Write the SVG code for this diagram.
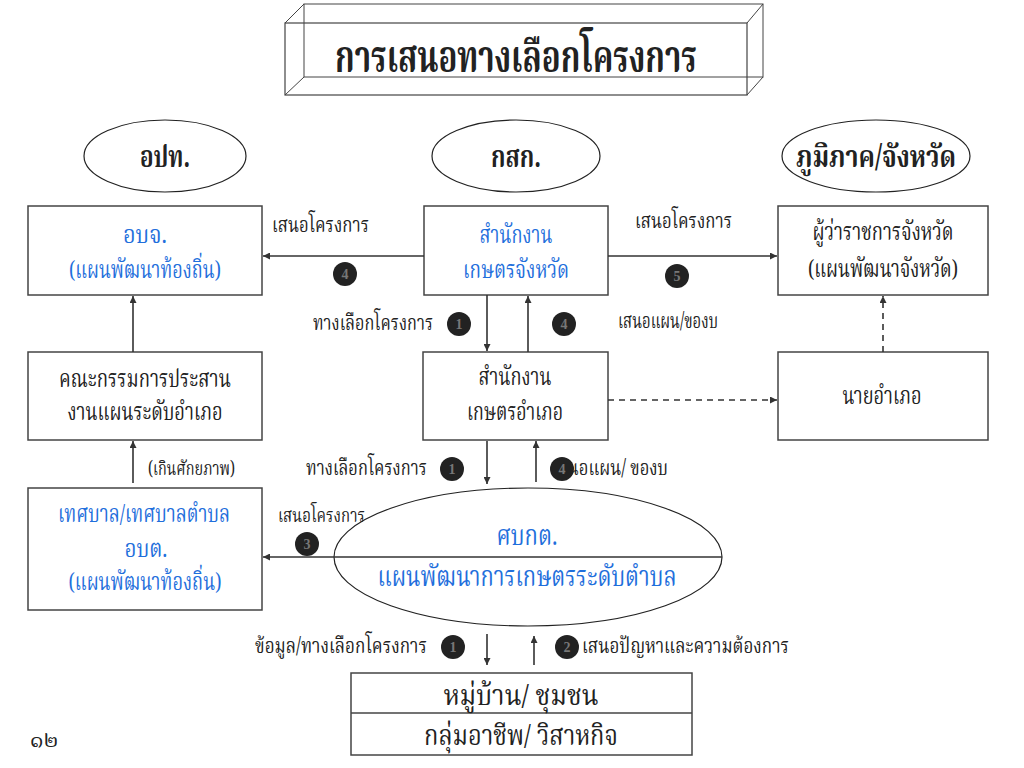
<svg xmlns="http://www.w3.org/2000/svg" width="1024" height="768" viewBox="0 0 1024 768">
<style>
  .t { font-family: 'Noto Serif Thai','Noto Sans Thai','Liberation Serif','DejaVu Serif',serif; fill:#222; }
  .m { font-size:24px; }
  .b { fill:#1f6fdc; }
  .box { fill:#fff; stroke:#444; stroke-width:1.5; }
  .ell { fill:#fff; stroke:#222; stroke-width:1.2; }
  .ln { stroke:#333; stroke-width:1.6; fill:none; }
  .dash { stroke:#333; stroke-width:1.6; fill:none; stroke-dasharray:6 5; }
  .bd { fill:#222; }
  .bn { font-family:'Liberation Serif',serif; font-weight:bold; font-size:14px; fill:#777; text-anchor:middle; }
  .hd { font-weight:bold; }
</style>
<defs>
  <marker id="ah" viewBox="0 0 10 10" refX="10" refY="5" markerWidth="7" markerHeight="7" markerUnits="userSpaceOnUse" orient="auto">
    <path d="M0,0 L10,5 L0,10 z" fill="#333"/>
  </marker>
</defs>

<g id="title">
  <rect x="304" y="4" width="459" height="73" fill="none" stroke="#444" stroke-width="1"/>
  <rect x="285" y="23" width="462" height="72" fill="none" stroke="#444" stroke-width="1.2"/>
  <line x1="285" y1="23" x2="304" y2="4" stroke="#444"/>
  <line x1="747" y1="23" x2="763" y2="4" stroke="#444"/>
  <line x1="285" y1="95" x2="304" y2="77" stroke="#444"/>
  <line x1="747" y1="95" x2="763" y2="77" stroke="#444"/>
  <text class="t hd" x="516" y="72" font-size="44" text-anchor="middle" textLength="362" lengthAdjust="spacingAndGlyphs">การเสนอทางเลือกโครงการ</text>
</g>

<g id="e-opt">
  <ellipse class="ell" cx="165" cy="156" rx="81" ry="36"/>
  <text class="t hd" x="165" y="167" font-size="30" text-anchor="middle" textLength="50" lengthAdjust="spacingAndGlyphs">อปท.</text>
</g>
<g id="e-ksk">
  <ellipse class="ell" cx="516" cy="156" rx="84" ry="36"/>
  <text class="t hd" x="516" y="167" font-size="30" text-anchor="middle" textLength="50" lengthAdjust="spacingAndGlyphs">กสก.</text>
</g>
<g id="e-region">
  <ellipse class="ell" cx="876" cy="156" rx="94" ry="36"/>
  <text class="t hd" x="876" y="167" font-size="30" text-anchor="middle" textLength="160" lengthAdjust="spacingAndGlyphs">ภูมิภาค/จังหวัด</text>
</g>

<g id="n-obj">
  <rect class="box" x="28" y="206" width="234" height="89"/>
  <text class="t m b" x="145" y="243" text-anchor="middle" textLength="44" lengthAdjust="spacingAndGlyphs">อบจ.</text>
  <text class="t m b" x="145" y="278" text-anchor="middle" textLength="152" lengthAdjust="spacingAndGlyphs">(แผนพัฒนาท้องถิ่น)</text>
</g>
<g id="n-province-office">
  <rect class="box" x="424" y="206" width="184" height="89"/>
  <text class="t m b" x="516" y="243" text-anchor="middle" textLength="73" lengthAdjust="spacingAndGlyphs">สำนักงาน</text>
  <text class="t m b" x="516" y="278" text-anchor="middle" textLength="106" lengthAdjust="spacingAndGlyphs">เกษตรจังหวัด</text>
</g>
<g id="n-governor">
  <rect class="box" x="778" y="206" width="210" height="89"/>
  <text class="t m" x="883" y="240" text-anchor="middle" textLength="141" lengthAdjust="spacingAndGlyphs">ผู้ว่าราชการจังหวัด</text>
  <text class="t m" x="883" y="277" text-anchor="middle" textLength="150" lengthAdjust="spacingAndGlyphs">(แผนพัฒนาจังหวัด)</text>
</g>
<g id="n-committee">
  <rect class="box" x="28" y="352" width="234" height="88"/>
  <text class="t m" x="145" y="387" text-anchor="middle" textLength="172" lengthAdjust="spacingAndGlyphs">คณะกรรมการประสาน</text>
  <text class="t m" x="145" y="420" text-anchor="middle" textLength="155" lengthAdjust="spacingAndGlyphs">งานแผนระดับอำเภอ</text>
</g>
<g id="n-district-office">
  <rect class="box" x="423" y="352" width="185" height="88"/>
  <text class="t m" x="515" y="385" text-anchor="middle" textLength="73" lengthAdjust="spacingAndGlyphs">สำนักงาน</text>
  <text class="t m" x="515" y="420" text-anchor="middle" textLength="96" lengthAdjust="spacingAndGlyphs">เกษตรอำเภอ</text>
</g>
<g id="n-district-chief">
  <rect class="box" x="778" y="352" width="210" height="88"/>
  <text class="t m" x="882" y="404" text-anchor="middle" textLength="79" lengthAdjust="spacingAndGlyphs">นายอำเภอ</text>
</g>
<g id="n-municipal">
  <rect class="box" x="28" y="488" width="234" height="122"/>
  <text class="t m b" x="144" y="522" text-anchor="middle" textLength="172" lengthAdjust="spacingAndGlyphs">เทศบาล/เทศบาลตำบล</text>
  <text class="t m b" x="146" y="557" text-anchor="middle" textLength="43" lengthAdjust="spacingAndGlyphs">อบต.</text>
  <text class="t m b" x="145" y="590" text-anchor="middle" textLength="153" lengthAdjust="spacingAndGlyphs">(แผนพัฒนาท้องถิ่น)</text>
</g>
<g id="n-sbkt">
  <ellipse class="ell" cx="528" cy="557" rx="194" ry="69"/>
  <line x1="334" y1="557" x2="722" y2="557" stroke="#333" stroke-width="1.6"/>
  <text class="t b" x="527" y="545" font-size="28" text-anchor="middle" textLength="61" lengthAdjust="spacingAndGlyphs">ศบกต.</text>
  <text class="t b" x="527" y="586" font-size="28" text-anchor="middle" textLength="299" lengthAdjust="spacingAndGlyphs">แผนพัฒนาการเกษตรระดับตำบล</text>
</g>
<g id="n-village">
  <rect class="box" x="351" y="673" width="341" height="82"/>
  <line x1="351" y1="713" x2="692" y2="713" stroke="#444" stroke-width="1.5"/>
  <text class="t" x="521" y="705" font-size="28" text-anchor="middle" textLength="155" lengthAdjust="spacingAndGlyphs">หมู่บ้าน/ ชุมชน</text>
  <text class="t" x="521" y="745" font-size="28" text-anchor="middle" textLength="194" lengthAdjust="spacingAndGlyphs">กลุ่มอาชีพ/ วิสาหกิจ</text>
</g>

<g id="connectors">
  <line class="ln" x1="424" y1="256" x2="263" y2="256" marker-end="url(#ah)"/>
  <line class="ln" x1="608" y1="256" x2="777" y2="256" marker-end="url(#ah)"/>
  <line class="ln" x1="487" y1="295" x2="487" y2="351" marker-end="url(#ah)"/>
  <line class="ln" x1="528" y1="352" x2="528" y2="296" marker-end="url(#ah)"/>
  <line class="dash" x1="608" y1="400" x2="777" y2="400" marker-end="url(#ah)"/>
  <line class="dash" x1="883" y1="352" x2="883" y2="296" marker-end="url(#ah)"/>
  <line class="ln" x1="133" y1="352" x2="133" y2="296" marker-end="url(#ah)"/>
  <line class="ln" x1="133" y1="483" x2="133" y2="441" marker-end="url(#ah)"/>
  <line class="ln" x1="487" y1="441" x2="487" y2="484" marker-end="url(#ah)"/>
  <line class="ln" x1="536" y1="482" x2="536" y2="441" marker-end="url(#ah)"/>
  <line class="ln" x1="334" y1="557" x2="263" y2="557" marker-end="url(#ah)"/>
  <line class="ln" x1="487" y1="634" x2="487" y2="665" marker-end="url(#ah)"/>
  <line class="ln" x1="534" y1="665" x2="534" y2="636" marker-end="url(#ah)"/>

  <text class="t" x="272" y="232" font-size="22" textLength="97" lengthAdjust="spacingAndGlyphs">เสนอโครงการ</text>
  <text class="t" x="635" y="228" font-size="22" textLength="97" lengthAdjust="spacingAndGlyphs">เสนอโครงการ</text>
  <text class="t" x="313" y="330" font-size="22" textLength="120" lengthAdjust="spacingAndGlyphs">ทางเลือกโครงการ</text>
  <text class="t" x="618" y="328" font-size="22" textLength="100" lengthAdjust="spacingAndGlyphs">เสนอแผน/ของบ</text>
  <text class="t" x="306" y="475" font-size="22" textLength="121" lengthAdjust="spacingAndGlyphs">ทางเลือกโครงการ</text>
  <text class="t" x="552" y="475" font-size="22" textLength="116" lengthAdjust="spacingAndGlyphs">เสนอแผน/ ของบ</text>
  <text class="t" x="148" y="475" font-size="19" textLength="87" lengthAdjust="spacingAndGlyphs">(เกินศักยภาพ)</text>
  <text class="t" x="278" y="522" font-size="19" textLength="87" lengthAdjust="spacingAndGlyphs">เสนอโครงการ</text>
  <text class="t" x="255" y="653" font-size="22" textLength="172" lengthAdjust="spacingAndGlyphs">ข้อมูล/ทางเลือกโครงการ</text>
  <text class="t" x="582" y="653" font-size="22" textLength="207" lengthAdjust="spacingAndGlyphs">เสนอปัญหาและความต้องการ</text>

  <circle class="bd" cx="345" cy="274" r="12"/><text class="bn" x="345" y="279">4</text>
  <circle class="bd" cx="677" cy="276" r="12"/><text class="bn" x="677" y="281">5</text>
  <circle class="bd" cx="459" cy="324" r="12"/><text class="bn" x="459" y="329">1</text>
  <circle class="bd" cx="564" cy="324" r="12"/><text class="bn" x="564" y="329">4</text>
  <circle class="bd" cx="452" cy="469" r="12"/><text class="bn" x="452" y="474">1</text>
  <circle class="bd" cx="562" cy="469" r="12"/><text class="bn" x="562" y="474">4</text>
  <circle class="bd" cx="307" cy="544" r="12"/><text class="bn" x="307" y="549">3</text>
  <circle class="bd" cx="453" cy="647" r="12"/><text class="bn" x="453" y="652">1</text>
  <circle class="bd" cx="567" cy="647" r="12"/><text class="bn" x="567" y="652">2</text>
</g>

<text class="t" x="30" y="747" font-size="22">๑๒</text>
</svg>
